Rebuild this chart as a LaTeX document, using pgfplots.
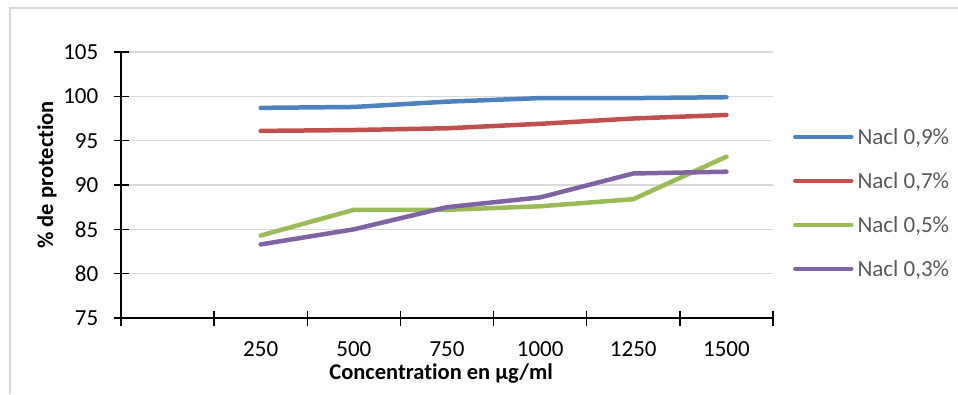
\documentclass[border=0pt]{standalone}
\usepackage{pgfplots}
\pgfplotsset{compat=1.18}
\usepackage{fontspec}
\setmainfont{Carlito}[Ligatures=NoCommon]
\definecolor{cblue}{HTML}{4F81BD}
\definecolor{cred}{HTML}{C0504D}
\definecolor{cgreen}{HTML}{9BBB59}
\definecolor{cpurple}{HTML}{8064A2}
\definecolor{gridgray}{HTML}{D9D9D9}
\definecolor{legtext}{HTML}{595959}
\begin{document}
\fontsize{23bp}{27bp}\selectfont
\begin{tikzpicture}[x=1bp,y=1bp]
\useasboundingbox (0,0) rectangle (958,394);
\draw[color=gridgray, line width=1.5bp] (10,0) -- (10,386) -- (958,386);
\begin{axis}[
  at={(121bp,76bp)}, anchor=south west,
  scale only axis, width=652bp, height=266bp,
  xmin=0, xmax=7, ymin=75, ymax=105,
  xtick={0,1,2,3,4,5,6,7},
  xticklabels={,250,500,750,1000,1250,1500},
  x tick label as interval,
  ytick={75,80,85,90,95,100,105},
  ymajorgrids, grid style={color=gridgray, line width=1.3bp},
  axis x line*=bottom, axis y line*=left,
  tick align=center, major tick length=15bp,
  tick style={black, line width=1.3bp},
  axis line style={black, line width=1.5bp},
  /pgf/number format/assume math mode=true,
  tick label style={font=\fontsize{23bp}{27bp}\selectfont, black, inner sep=0pt},
  yticklabel style={anchor=east, xshift=-15bp},
  xticklabel style={anchor=north, yshift=-16bp},
  xlabel={\bfseries Concentration en µg/ml},
  ylabel={\bfseries \% de protection},
  label style={font=\fontsize{22.5bp}{26bp}\selectfont, inner sep=0pt},
  xlabel style={at={(axis description cs:0.491,-0.233)}, anchor=base},
  ylabel style={at={(axis description cs:-0.1043,0.538)}, anchor=base},
  legend style={draw=none, fill=none, inner sep=0pt, outer sep=0pt,
    at={(axis description cs:1.0307,0.709)}, anchor=north west,
    row sep=29bp, column sep=4bp,
    font=\fontsize{23bp}{27bp}\selectfont, text=legtext,
    nodes={inner sep=0pt, text height=15bp, text depth=0bp}},
  legend cell align=left,
  legend image code/.code={\draw[#1, line width=4.5bp, line cap=round] (0bp,0bp) -- (56bp,0bp);},
  every axis plot/.append style={line width=4.5bp, line cap=round, line join=round},
]
\addplot[cblue] coordinates {(1.5,98.7) (2.5,98.8) (3.5,99.4) (4.5,99.8) (5.5,99.8) (6.5,99.9)};
\addlegendentry{Nacl 0,9\%}
\addplot[cred] coordinates {(1.5,96.1) (2.5,96.2) (3.5,96.4) (4.5,96.9) (5.5,97.5) (6.5,97.9)};
\addlegendentry{Nacl 0,7\%}
\addplot[cgreen] coordinates {(1.5,84.3) (2.5,87.2) (3.5,87.2) (4.5,87.6) (5.5,88.4) (6.5,93.2)};
\addlegendentry{Nacl 0,5\%}
\addplot[cpurple] coordinates {(1.5,83.3) (2.5,85.0) (3.5,87.5) (4.5,88.6) (5.5,91.3) (6.5,91.5)};
\addlegendentry{Nacl 0,3\%}
\end{axis}
\end{tikzpicture}
\end{document}
